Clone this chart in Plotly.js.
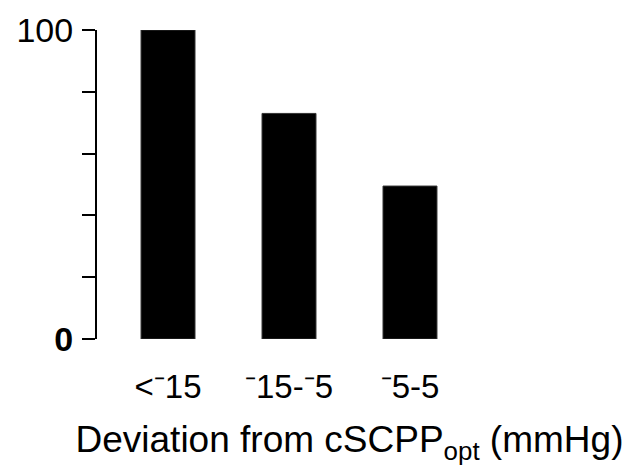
<!DOCTYPE html>
<html>
<head>
<meta charset="utf-8">
<script src="https://cdn.plot.ly/plotly-3.0.1.min.js"></script>
<style>html,body{margin:0;padding:0;background:#fff;}#chart{width:630px;height:475px;}</style>
</head>
<body>
<div id="chart"></div>
<script>
var categories = ['<−15', '−15−−5', '−5−5'];
var categoryLabels = ['<\u207B15', '\u207B15-\u207B5', '\u207B5-5'];
var values = [100, 73, 49.5];
var yTickValues = [0, 20, 40, 60, 80, 100];
var yTickLabels = ['<b>0</b>', '', '', '', '', '100'];
var xTitle = 'Deviation from cSCPP<sub>opt</sub> (mmHg)';

var xIdx = categories.map(function(_, i){ return i; });

var trace = {
  type: 'bar',
  x: xIdx,
  y: values,
  width: 0.446,
  marker: {color: '#000000', line: {color: '#333333', width: 1}},
  hoverinfo: 'none'
};

var font = 'Liberation Sans, Arial, sans-serif';
var layout = {
  width: 630, height: 475,
  margin: {l: 97, r: 28, t: 30, b: 136},
  paper_bgcolor: '#ffffff', plot_bgcolor: '#ffffff',
  showlegend: false,
  font: {family: font, color: '#000000'},
  xaxis: {
    range: [-0.587, 3.587],
    tickmode: 'array', tickvals: xIdx, ticktext: categoryLabels,
    tickfont: {size: 33, family: font, color: '#000'},
    showline: false, showgrid: false, zeroline: false, ticks: '',
    ticklabelstandoff: 25,
    automargin: false,
    title: {text: xTitle, font: {size: 37, family: font, color: '#000'}, standoff: 22}
  },
  yaxis: {
    range: [0, 100],
    tickmode: 'array', tickvals: yTickValues, ticktext: yTickLabels,
    tickfont: {size: 34, family: font, color: '#000'},
    showline: true, linecolor: '#000', linewidth: 2,
    ticks: 'outside', ticklen: 13, tickwidth: 2, tickcolor: '#000',
    showgrid: false, zeroline: false,
    ticklabelstandoff: 2,
    automargin: false
  }
};

Plotly.newPlot('chart', [trace], layout, {staticPlot: true, displayModeBar: false});
</script>
</body>
</html>
